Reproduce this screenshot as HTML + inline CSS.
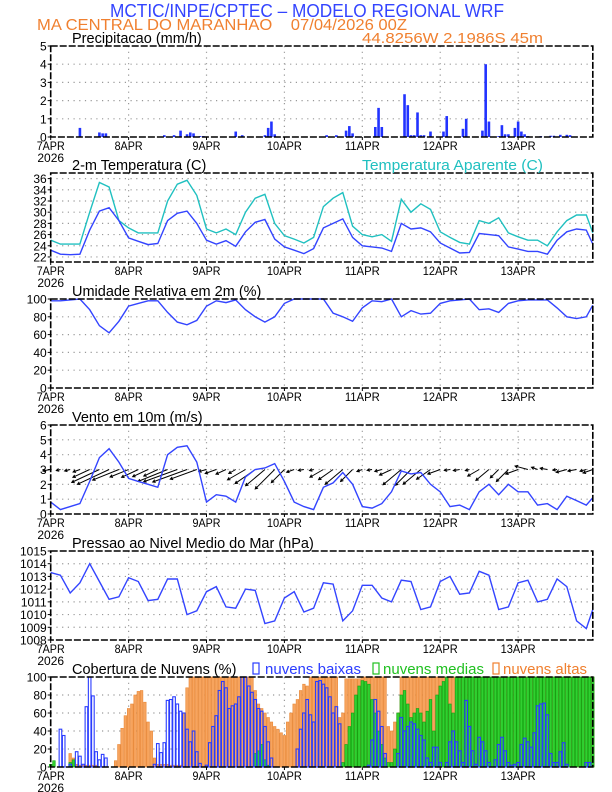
<!DOCTYPE html>
<html><head><meta charset="utf-8"><style>
html,body{margin:0;padding:0;background:#fff;}
svg{display:block;font-family:"Liberation Sans",sans-serif;}
</style></head><body>
<svg id="chart" width="612" height="792" viewBox="0 0 612 792" xmlns="http://www.w3.org/2000/svg">
<rect width="612" height="792" fill="#fff"/>
<text x="110" y="17" font-size="18" fill="#3344ff" textLength="394" lengthAdjust="spacingAndGlyphs">MCTIC/INPE/CPTEC – MODELO REGIONAL WRF</text>
<text x="37" y="30" font-size="16" fill="#f08030" textLength="370" lengthAdjust="spacingAndGlyphs" xml:space="preserve">MA CENTRAL DO MARANHAO    07/04/2026 00Z</text>
<text x="362" y="43" font-size="15" fill="#f08030" textLength="181" lengthAdjust="spacingAndGlyphs">44.8256W 2.1986S 45m</text>
<g id="plots"></g>
</svg>
<script>
// ---------- data ----------
const dayLabels = ["7APR","8APR","9APR","10APR","11APR","12APR","13APR"];
const precipHours = [9,15,16,17,35,38,40,42,43,44,46,47,57,59,66,67,68,69,85,88,91,92,93,100,101,102,109,110,111,112,113,114,115,117,121,122,127,128,133,134,135,138,139,140,141,143,144,145,146,147,151,154,155,157,159,160];
const precipValues = [0.5,0.25,0.2,0.2,0.1,0.1,0.35,0.15,0.25,0.2,0.05,0.05,0.3,0.1,0.1,0.5,0.85,0.15,0.1,0.1,0.35,0.6,0.2,0.55,1.6,0.55,2.35,1.75,0.1,0.1,1.35,0.1,0.1,0.3,0.3,1.15,0.45,1.0,0.35,4.0,0.85,0.05,0.65,0.15,0.15,0.5,0.85,0.3,0.15,0.05,0.05,0.07,0.07,0.12,0.12,0.1];
const tempBlue = [23.2,22.5,22.4,22.5,26.8,30.2,30.8,28.5,25.4,24.8,24.2,24.4,28.5,29.8,30.2,28.0,25.0,24.3,24.9,23.9,26.5,28.2,28.7,25.2,23.8,23.2,22.6,23.5,27.2,28.0,28.8,25.5,24.0,23.8,23.6,23.0,28.0,27.0,27.2,26.5,24.5,23.6,22.7,22.8,26.2,26.0,25.8,23.8,23.4,23.0,23.0,22.5,25.0,26.5,27.0,26.8,24.3];
const tempApparent = [25.0,24.3,24.3,24.3,30.0,35.3,34.5,28.5,27.2,26.3,26.3,26.3,32.0,35.0,35.7,33.0,27.0,26.3,27.0,26.0,30.0,32.5,33.2,28.0,25.8,25.2,24.5,25.5,31.0,32.5,33.5,27.5,26.0,25.6,26.0,24.8,32.3,30.0,31.5,30.5,26.5,25.5,24.6,24.3,28.5,28.0,29.0,26.3,25.6,25.0,25.0,24.0,26.5,28.5,29.5,29.5,26.3];
const humidity = [98,98,99,100,88,70,62,75,92,95,98,98,85,74,71,76,92,98,96,99,88,80,74,80,95,100,100,100,100,84,80,75,90,98,97,100,80,87,83,84,95,98,99,100,88,89,85,95,98,99,99,99,90,80,78,80,93];
const windSpeed = [0.8,0.3,0.5,0.7,2.2,3.8,4.4,3.5,2.4,2.2,2.0,1.8,4.0,4.5,4.6,3.5,0.8,1.3,1.2,0.8,2.5,3.0,3.1,3.4,2.2,0.8,0.5,0.3,1.8,2.1,2.8,2.0,0.5,0.4,0.7,1.5,2.9,2.7,2.8,2.0,1.5,0.5,0.6,0.3,1.5,2.0,1.3,2.0,1.5,1.5,0.6,0.7,0.3,1.2,0.9,0.6,1.1];
const windDir = [10,15,15,20,25,25,25,22,22,25,25,25,22,20,20,20,15,20,25,30,30,35,40,45,45,20,10,15,30,35,40,45,20,10,15,25,40,45,40,35,20,10,10,15,30,40,45,45,20,-15,-20,-10,10,15,10,15,20];
const pressure = [1013.3,1013.1,1011.7,1012.5,1014.0,1012.6,1011.2,1011.4,1012.9,1012.6,1011.1,1011.2,1012.8,1012.8,1010.0,1010.3,1011.8,1012.2,1010.6,1010.5,1012.0,1011.9,1009.3,1009.5,1011.3,1011.8,1010.2,1010.5,1012.5,1012.4,1009.5,1010.3,1012.3,1012.3,1011.3,1011.0,1012.7,1012.6,1010.4,1010.6,1012.6,1013.0,1011.6,1011.7,1013.4,1013.1,1010.4,1010.6,1012.5,1012.7,1011.0,1011.2,1012.8,1012.2,1009.5,1008.9,1010.4];
const cloudLow = [0,0,0,42,35,0,3,0,17,12, 3,67,100,79,17,8,14,10,0,0, 0,0,0,0,0,0,0,0,0,0, 0,0,3,26,16,27,74,75,78,70, 62,60,42,28,40,17,4,0,2,27, 45,57,85,95,88,65,68,70,78,100, 100,90,83,75,65,62,45,28,10,0, 0,0,0,0,0,0,20,42,60,75, 58,50,95,96,92,88,78,60,67,48, 0,0,0,0,0,0,0,0,2,30, 75,62,45,15,0,0,0,15,55,40, 45,50,48,42,35,30,10,5,22,22, 5,0,5,28,40,28,18,5,74,45, 18,3,33,28,18,5,0,8,25,33, 18,5,2,3,5,25,32,28,22,38, 68,70,71,58,15,5,5,17,27,3, 0,0,0,0,0,5,5,0];
const cloudMid = [3,7,0,0,0,0,5,8,0,0, 0,0,0,0,0,0,0,0,0,0, 0,0,0,0,0,0,0,0,0,0, 0,0,0,0,0,0,0,0,0,0, 0,0,0,0,0,0,0,0,0,0, 0,0,0,0,0,0,0,0,0,0, 0,0,0,15,18,25,8,2,0,0, 0,0,0,0,0,0,0,0,0,0, 0,0,0,0,0,0,0,0,0,0, 5,25,45,60,80,90,96,95,92,75, 60,40,25,10,5,5,20,60,80,85, 70,55,60,65,60,50,62,75,40,80, 90,95,100,70,60,100,100,100,100,100, 100,100,100,100,100,100,100,100,100,100, 100,100,100,100,100,100,100,100,100,100, 100,100,100,100,100,100,100,100,100,100, 100,100,100,100,100,100,100,100];
const cloudHigh = [0,0,0,0,0,0,15,10,3,2, 2,2,2,2,2,0,0,0,0,0, 7,25,43,57,65,70,80,84,85,72, 50,40,10,3,3,3,3,2,2,2, 2,60,88,100,100,100,100,100,100,100, 100,100,100,100,100,100,100,100,100,100, 100,100,100,85,70,65,60,55,50,45, 42,38,35,50,60,70,75,85,92,90, 100,100,100,100,100,100,100,100,100,55, 60,98,98,98,98,98,100,100,100,100, 100,100,100,100,45,40,50,60,100,100, 100,100,100,100,100,100,100,100,100,100, 100,100,100,100,100,100,100,100,100,100, 100,100,100,100,100,100,100,100,100,100, 100,100,100,100,100,100,100,100,100,100, 100,100,100,100,100,100,100,100,100,100, 100,100,100,100,100,100,100,100];
const hours3 = [];
for (let h = 0; h <= 165; h += 3) hours3.push(h);
hours3.push(167);

// ---------- layout ----------
const NS = "http://www.w3.org/2000/svg";
const g = document.getElementById("plots");
const X0 = 50.7, X1 = 592.8, HMAX = 167;
const xs = h => X0 + h * (X1 - X0) / HMAX;
function el(tag, attrs, parent) {
  const e = document.createElementNS(NS, tag);
  for (const k in attrs) e.setAttribute(k, attrs[k]);
  (parent || g).appendChild(e);
  return e;
}
function panel(name, top, bot, min, max, ticks, title, showYear) {
  const ys = v => bot - (v - min) / (max - min) * (bot - top);
  const pg = el("g", {});
  
  
  ticks.forEach(t => {
    const y = ys(t);
    if (t !== min && t !== max) {
      const gl = el("line", {x1: X0, x2: X1, y1: y, y2: y, stroke: "#999", "stroke-width": 1.2, "stroke-dasharray": "1.2,4.5"}, pg);
      
      
    }
    const tl = el("text", {x: X0 - 4, y: y + 4.5, "font-size": 12, "text-anchor": "end"}, pg);
    
    
    tl.textContent = t;
    el("line", {x1: X0 - 3, x2: X0, y1: y, y2: y, stroke: "#000"}, pg);
  });
  dayLabels.forEach((d, i) => {
    const x = xs(i * 24);
    if (i > 0) {
      const vl = el("line", {x1: x, x2: x, y1: top, y2: bot, stroke: "#999", "stroke-width": 1.2, "stroke-dasharray": "1.2,4.5"}, pg);
      
      
    }
    el("line", {x1: x, x2: x, y1: bot, y2: bot + 3, stroke: "#000"}, pg);
    const xl = el("text", {x: x, y: bot + 13, "font-size": 12, "text-anchor": "middle", textLength: d.length * 7, lengthAdjust: "spacingAndGlyphs"}, pg);
    
    
    xl.textContent = d;
  });
  if (showYear) {
    const yr = el("text", {x: X0, y: bot + 25, "font-size": 12, "text-anchor": "middle"}, pg);
    
    
    yr.textContent = "2026";
  }
  const tt = el("text", {x: 72, y: top - 3, "font-size": 14.5}, pg);
  
  
  tt.textContent = title;
  const marks = el("g", {}, pg);
  
  
  const fr = el("rect", {x: X0, y: top, width: X1 - X0, height: bot - top, fill: "none", stroke: "#000", "stroke-width": 1.6, "stroke-dasharray": "7,2"}, pg);
  
  
  return {ys, marks, pg};
}
function line(p, xsArr, vals, color, name) {
  const d = vals.map((v, i) => (i ? "L" : "M") + xs(xsArr[i]).toFixed(1) + "," + p.ys(v).toFixed(1)).join("");
  const pth = el("path", {d: d, fill: "none", stroke: color, "stroke-width": 1.4}, p.marks);
  
  
}

// Precip
const p1 = panel("precipitation", 46, 137, 0, 5, [0,1,2,3,4,5], "Precipitacao (mm/h)", true);
precipHours.forEach((h, i) => {
  const y = p1.ys(precipValues[i]);
  const b = el("rect", {x: xs(h) - 1.3, y: y, width: 2.6, height: p1.ys(0) - y, fill: "#2233ff"}, p1.marks);
  
  
});

// Temperature
const p2 = panel("temperature", 173, 262, 21.1, 37, [22,24,26,28,30,32,34,36], "2-m Temperatura (C)", true);
line(p2, hours3, tempApparent, "#20c0c0", "apparent-temperature-line");
line(p2, hours3, tempBlue, "#3344ff", "temperature-line");
const at = el("text", {x: 362, y: 170, "font-size": 14.5, fill: "#20c0c0", textLength: 181, lengthAdjust: "spacingAndGlyphs"}, p2.pg);


at.textContent = "Temperatura Aparente (C)";

// Humidity
const p3 = panel("humidity", 299, 388, 0, 100, [0,20,40,60,80,100], "Umidade Relativa em 2m (%)", true);
line(p3, hours3, humidity, "#3344ff", "humidity-line");

// Wind
const p4 = panel("wind", 425, 514, 0, 6, [0,1,2,3,4,5,6], "Vento em 10m (m/s)", true);
hours3.forEach((h, i) => {
  const s = windSpeed[i], a = windDir[i] * Math.PI / 180;
  const x = xs(h), y = p4.ys(3);
  const len = 2 + s * 7.5;
  const x2 = x - len * Math.cos(a), y2 = y + len * Math.sin(a);
  const ar = el("path", {d: "M" + x + "," + y + "L" + x2 + "," + y2 + "M" + (x2 + 3 * Math.cos(a - 0.5)) + "," + (y2 - 3 * Math.sin(a - 0.5)) + "L" + x2 + "," + y2 + "L" + (x2 + 3 * Math.cos(a + 0.5)) + "," + (y2 - 3 * Math.sin(a + 0.5)), stroke: "#000", "stroke-width": 1, fill: "none"}, p4.marks);
  
  
});
line(p4, hours3, windSpeed, "#3344ff", "wind-speed-line");

// Pressure
const p5 = panel("pressure", 551, 640, 1008, 1015, [1008,1009,1010,1011,1012,1013,1014,1015], "Pressao ao Nivel Medio do Mar (hPa)", true);
line(p5, hours3, pressure, "#3344ff", "pressure-line");

// Clouds
const p6 = panel("clouds", 677, 767, 0, 100, [0,20,40,60,80,100], "Cobertura de Nuvens (%)", true);
function cloudBars(vals, fill, stroke, sw, name) {
  vals.forEach((v, h) => {
    if (v <= 0) return;
    const y = p6.ys(v);
    const b = el("rect", {x: xs(h) - 1.3, y: y, width: 2.6, height: p6.ys(0) - y, fill: fill, stroke: stroke, "stroke-width": sw}, p6.marks);
    
    
  });
}
cloudBars(cloudHigh, "#f7a45e", "#e88838", 0.6, "high-cloud-bar");
cloudBars(cloudMid, "#30d030", "#10a010", 0.6, "mid-cloud-bar");
cloudBars(cloudLow, "none", "#2a3cff", 1.1, "low-cloud-bar");
const legend = [
  ["nuvens baixas", "#2a3cff", 253, 265, 96, "legend-low-clouds"],
  ["nuvens medias", "#20c020", 373, 383, 101, "legend-mid-clouds"],
  ["nuvens altas", "#f08030", 493, 503, 84, "legend-high-clouds"]
];
legend.forEach(l => {
  const lg = el("g", {}, p6.pg);
  
  
  el("rect", {x: l[2], y: 663, width: 6, height: 11, fill: "none", stroke: l[1], "stroke-width": 1.2}, lg);
  const t = el("text", {x: l[3], y: 674, "font-size": 14.5, fill: l[1], textLength: l[4], lengthAdjust: "spacingAndGlyphs"}, lg);
  t.textContent = l[0];
});
</script>
</body></html>
